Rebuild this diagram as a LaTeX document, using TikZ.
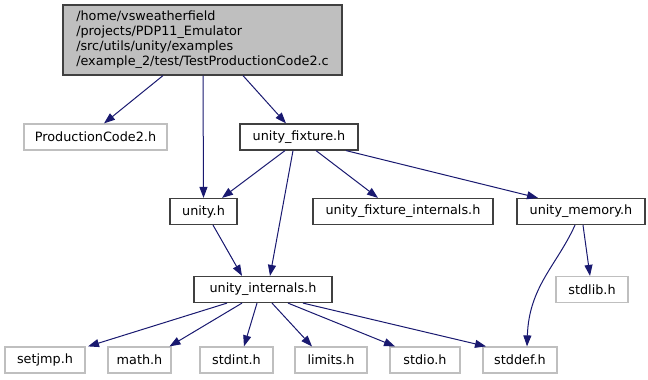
\documentclass[tikz,border=0pt]{standalone}
\usepackage{fontspec}
\setmainfont{DejaVu Sans}
\usetikzlibrary{arrows.meta}
\definecolor{edgeblue}{HTML}{191970}
\definecolor{boxgray}{HTML}{BFBFBF}
\definecolor{boxline}{HTML}{404040}
\begin{document}
\begin{tikzpicture}[x=1pt,y=-1pt,
  every node/.style={font=\fontsize{12.8}{15}\selectfont, inner sep=0pt, minimum height=26pt},
  sysbox/.style={draw=boxgray, line width=1.2pt, rectangle},
  filebox/.style={draw=boxline, line width=1.2pt, rectangle},
  rootbox/.style={draw=boxline, fill=boxgray, line width=1.2pt, rectangle, align=left,
                  minimum width=279pt, minimum height=70pt},
  edge/.style={draw=edgeblue, line width=1pt, -{Triangle[length=11pt,width=8pt]}}]
\useasboundingbox (0,0) rectangle (648,380);

% root file
\node[rootbox] (root) at (202.5,40) {/home/vsweatherfield\\/projects/PDP11\_Emulator\\/src/utils/unity/examples\\/example\_2/test/TestProductionCode2.c};

% second row
\node[sysbox, minimum width=143pt] (pc2) at (95.5,137) {ProductionCode2.h};
\node[filebox, minimum width=118pt] (fix) at (299,137) {unity\_fixture.h};

% third row
\node[filebox, minimum width=67pt] (unity) at (203.5,211.5) {unity.h};
\node[filebox, minimum width=180pt] (fint) at (403,211.5) {unity\_fixture\_internals.h};
\node[filebox, minimum width=128pt] (mem) at (581,211.5) {unity\_memory.h};

% fourth row
\node[filebox, minimum width=138pt] (uint) at (263,289.5) {unity\_internals.h};
\node[sysbox, minimum width=72pt] (stdlib) at (592,289.5) {stdlib.h};

% system headers
\node[sysbox, minimum width=80pt] (setjmp) at (45,360) {setjmp.h};
\node[sysbox, minimum width=63pt] (math) at (139.5,360) {math.h};
\node[sysbox, minimum width=73pt] (stdint) at (236.5,360) {stdint.h};
\node[sysbox, minimum width=72pt] (limits) at (331,360) {limits.h};
\node[sysbox, minimum width=70pt] (stdio) at (425,360) {stdio.h};
\node[sysbox, minimum width=74pt] (stddef) at (520,360) {stddef.h};

% include edges
\draw[edge] ([xshift=-39.5pt]root.south) -- ([xshift=8.5pt]pc2.north);
\draw[edge] ([xshift=0.5pt]root.south) -- (unity.north);
\draw[edge] ([xshift=40.5pt]root.south) -- ([xshift=-13pt]fix.north);

\draw[edge] ([xshift=-14pt]fix.south) -- ([xshift=18.5pt]unity.north);
\draw[edge] ([xshift=-6pt]fix.south) -- ([xshift=7pt]uint.north);
\draw[edge] ([xshift=17pt]fix.south) -- ([xshift=-25pt]fint.north);
\draw[edge] ([xshift=47pt]fix.south) -- ([xshift=-43pt]mem.north);

\draw[edge] ([xshift=9.5pt]unity.south) -- ([xshift=-21pt]uint.north);

\draw[edge] ([xshift=2pt]mem.south) -- ([xshift=-2pt]stdlib.north);
\draw[edge] ([xshift=-6pt]mem.south) .. controls +(-18,40) and +(2,-60) .. ([xshift=7pt]stddef.north);

\draw[edge] ([xshift=-36pt]uint.south) -- ([xshift=43pt]setjmp.north);
\draw[edge] ([xshift=-21pt]uint.south) -- ([xshift=30pt]math.north);
\draw[edge] ([xshift=-6pt]uint.south) -- ([xshift=7.5pt]stdint.north);
\draw[edge] ([xshift=9pt]uint.south) -- ([xshift=-19pt]limits.north);
\draw[edge] ([xshift=25pt]uint.south) -- ([xshift=-30pt]stdio.north);
\draw[edge] ([xshift=40pt]uint.south) -- ([xshift=-34pt]stddef.north);
\end{tikzpicture}
\end{document}
